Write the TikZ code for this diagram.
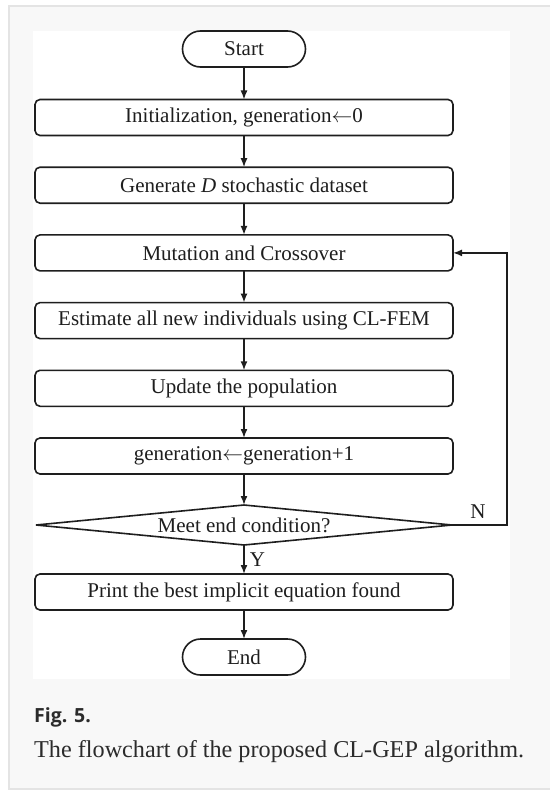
\documentclass[tikz,border=0pt]{standalone}
\usepackage{fontspec}
\setmainfont{Liberation Serif}
\newfontfamily\capsans{Open Sans}
\usetikzlibrary{arrows.meta,positioning,shapes.geometric}
\definecolor{ink}{HTML}{1E1E1E}
\definecolor{pagebg}{HTML}{F8F8F8}
\definecolor{pageline}{HTML}{E4E4E4}
\definecolor{captext}{HTML}{2B2B2B}
\tikzset{
  proc/.style={draw=ink,line width=1.6pt,rounded corners=5pt,fill=white,
               minimum width=418pt,minimum height=36pt,inner sep=0pt,outer sep=0pt,
               font=\fontsize{21}{24}\selectfont,text=ink},
  term/.style={draw=ink,line width=1.6pt,rounded corners=18pt,fill=white,
               minimum width=123pt,minimum height=36pt,inner sep=0pt,outer sep=0pt,
               font=\fontsize{21}{24}\selectfont,text=ink},
  decide/.style={draw=ink,line width=1.6pt,diamond,aspect=10,inner sep=0pt,outer sep=0pt,
                 minimum width=416pt,minimum height=40pt,
                 font=\fontsize{21}{24}\selectfont,text=ink},
  lbl/.style={font=\fontsize{21}{24}\selectfont,text=ink,inner sep=0pt},
  arrow/.style={-{Latex[length=9pt,width=7pt]},line width=1.6pt,draw=ink}
}
\begin{document}
\begin{tikzpicture}[x=1pt,y=-1pt,node distance=31.7pt]
\useasboundingbox (0,0) rectangle (549,797);
% page frame
\filldraw[fill=pagebg,draw=pageline,line width=1.2pt] (9,6) rectangle (560,789);
\fill[white] (33,31) rectangle (510,679);

\node[term] (start) at (244,49) {Start};
\node[proc,below=32.5pt of start] (init) {Initialization, generation$\leftarrow$0};
\node[proc,below=of init] (gen) {Generate \textit{D} stochastic dataset};
\node[proc,below=of gen] (mut) {Mutation and Crossover};
\node[proc,below=of mut] (est) {Estimate all new individuals using CL-FEM};
\node[proc,below=of est] (upd) {Update the population};
\node[proc,below=of upd] (inc) {generation$\leftarrow$generation+1};
\node[decide,below=31pt of inc] (cond) {Meet end condition?};
\node[proc,below=29pt of cond] (best) {Print the best implicit equation found};
\node[term,below=29pt of best] (stop) {End};
\coordinate[right=54pt of mut.east] (back);

\draw[arrow] (start)--(init);
\draw[arrow] (init)--(gen);
\draw[arrow] (gen)--(mut);
\draw[arrow] (mut)--(est);
\draw[arrow] (est)--(upd);
\draw[arrow] (upd)--(inc);
\draw[arrow] (inc)--(cond);
\draw[arrow] (cond)--(best) node[lbl,midway,right=5pt] {Y};
\draw[arrow] (best)--(stop);
\draw[arrow] (cond.east) -| (back) -- (mut.east);
\node[lbl] at (478,512) {N};

% caption
\node[anchor=base west,inner sep=0pt,text=captext,font=\capsans\bfseries\fontsize{19.5}{22}\selectfont] (fig) at (34,722.5) {Fig. 5.};
\node[anchor=base west,inner sep=0pt,text=captext,font=\fontsize{24.2}{28}\selectfont] (cap) at (34,757) {The flowchart of the proposed CL-GEP algorithm.};
\end{tikzpicture}
\end{document}
